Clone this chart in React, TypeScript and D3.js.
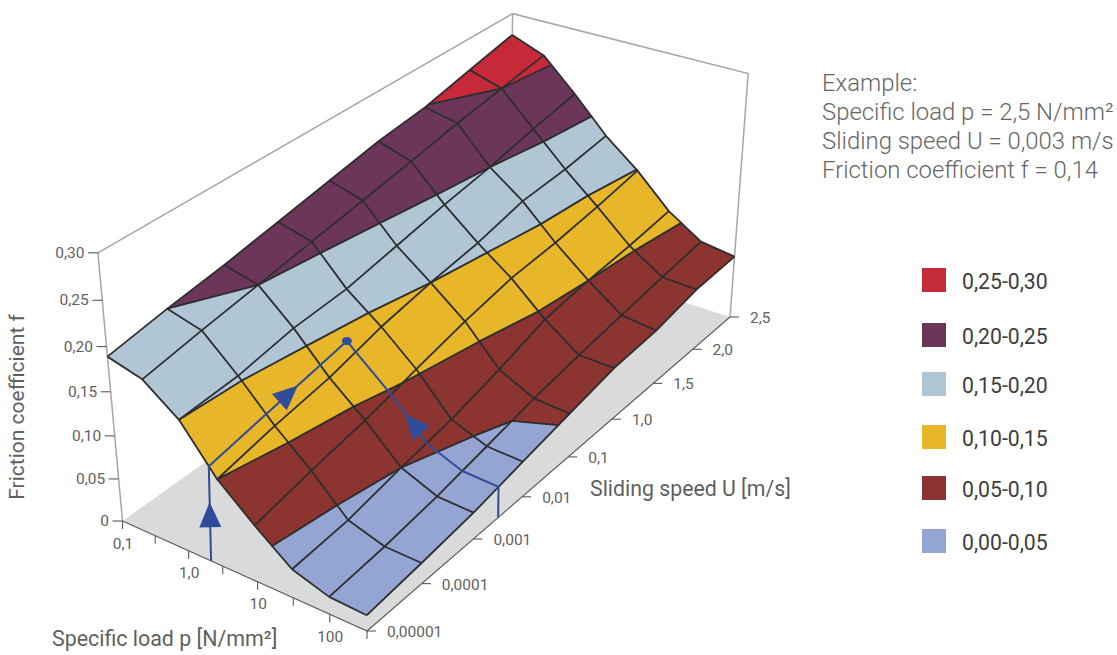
import React from "react";
import * as d3 from "d3";

// ---------- data ----------
const loadTickLabels = ["0,1", "", "1,0", "", "10", "", "100", ""];
const speedTickLabels = ["0,00001", "0,0001", "0,001", "0,01", "0,1", "1,0", "1,5", "2,0", "2,5"];
const frictionTicks = [0, 0.05, 0.1, 0.15, 0.2, 0.25, 0.3];
const frictionTickLabels = ["0", "0,05", "0,10", "0,15", "0,20", "0,25", "0,30"];

// friction f at each load step (columns) for each sliding speed step
const fAt00001 = [0.189, 0.179, 0.15, 0.1, 0.065, 0.033, 0.02, 0.018];
const fAt0001 = [0.2, 0.19, 0.154, 0.113, 0.078, 0.038, 0.025, 0.024];
const fAt001 = [0.209, 0.2, 0.165, 0.123, 0.089, 0.05, 0.033, 0.031];
const fAt01 = [0.22, 0.21, 0.169, 0.139, 0.104, 0.06, 0.044, 0.042];
const fAt1 = [0.231, 0.22, 0.18, 0.15, 0.118, 0.075, 0.0553, 0.0525];
const fAt10 = [0.242, 0.23, 0.191, 0.158, 0.129, 0.093, 0.064, 0.063];
const fAt15 = [0.249, 0.241, 0.2, 0.171, 0.133, 0.1, 0.071, 0.066];
const fAt20 = [0.262, 0.25, 0.212, 0.174, 0.14, 0.104, 0.078, 0.076];
const fAt25 = [0.274, 0.259, 0.222, 0.181, 0.149, 0.11, 0.084, 0.078];
const surface = [fAt00001, fAt0001, fAt001, fAt01, fAt1, fAt10, fAt15, fAt20, fAt25];

const bandEdges = [0, 0.05, 0.1, 0.15, 0.2, 0.25, 0.3];
const bandColors = ["#94a5d3", "#8b3430", "#e8b629", "#b0c6d5", "#6c365b", "#c62a38"];
const legendLabels = ["0,25-0,30", "0,20-0,25", "0,15-0,20", "0,10-0,15", "0,05-0,10", "0,00-0,05"];
const legendColors = ["#c62a38", "#6c365b", "#b0c6d5", "#e8b629", "#8b3430", "#94a5d3"];
const legendY = [280, 335, 384, 437, 488, 541];

const exampleLines = ["Example:", "Specific load p = 2,5 N/mm²", "Sliding speed U = 0,003 m/s", "Friction coefficient f = 0,14"];
// example path: load and speed steps
const exampleLoadFloor = 2.66;
const exampleLoadFront = 2.78;
const exampleLoad = 2.75;
const exampleSpeed = 2.5;
const exampleLoadSteps = [3, 4, 5, 6, 7];

// ---------- view calibration ----------
const A = [122.5, 521], B = [367, 631], C = [730, 317], D = [509, 246];
const V = [449, 4084], s = -0.07;
const dx1 = B[0] - C[0], dx2 = D[0] - C[0], sx = A[0] - B[0] + C[0] - D[0];
const dy1 = B[1] - C[1], dy2 = D[1] - C[1], sy = A[1] - B[1] + C[1] - D[1];
const det = dx1 * dy2 - dx2 * dy1;
const g = (sx * dy2 - dx2 * sy) / det, h = (dx1 * sy - sx * dy1) / det;
const H = { a: B[0] - A[0] + g * B[0], b: D[0] - A[0] + h * D[0], c: A[0], d: B[1] - A[1] + g * B[1], e: D[1] - A[1] + h * D[1], f: A[1] };

const loadScale = d3.scaleLinear().domain([0, 7]).range([0, 1]);
const speedScale = d3.scaleLinear().domain([0, 8]).range([0, 1]);
const frictionScale = d3.scaleLinear().domain([0, 0.3]).range([0, 1]);

type P = [number, number];
function project(i: number, j: number, f: number): P {
  const X = loadScale(i), Y = speedScale(j), Z = frictionScale(f);
  const q = 1 + g * X + h * Y + s * Z;
  return [(H.a * X + H.b * Y + H.c + s * Z * V[0]) / q, (H.d * X + H.e * Y + H.f + s * Z * V[1]) / q];
}
function surf(i: number, j: number) {
  const i0 = Math.min(Math.floor(i), 6), j0 = Math.min(Math.floor(j), 7), u = i - i0, v = j - j0;
  return (surface[j0][i0] * (1 - u) + surface[j0][i0 + 1] * u) * (1 - v) + (surface[j0 + 1][i0] * (1 - u) + surface[j0 + 1][i0 + 1] * u) * v;
}

type V3 = { x: number; y: number; f: number };
function clip(poly: V3[], t: number, keepAbove: boolean): V3[] {
  const out: V3[] = [];
  const inside = (v: V3) => (keepAbove ? v.f >= t : v.f <= t);
  poly.forEach((a, k) => {
    const b = poly[(k + 1) % poly.length];
    if (inside(a)) out.push(a);
    if (inside(a) !== inside(b)) {
      const u = (t - a.f) / (b.f - a.f);
      out.push({ x: a.x + (b.x - a.x) * u, y: a.y + (b.y - a.y) * u, f: t });
    }
  });
  return out;
}

const line = d3.line<P>();
const fills: { d: string; c: string }[] = [];
const contours: string[] = [];
for (let j = 0; j < 8; j++) {
  for (let i = 0; i < 7; i++) {
    const quad: V3[] = ([[i, j], [i + 1, j], [i + 1, j + 1], [i, j + 1]] as P[]).map(([a, b]) => {
      const f = surface[b][a];
      const [x, y] = project(a, b, f);
      return { x, y, f };
    });
    bandColors.forEach((c, b) => {
      const poly = clip(clip(quad, bandEdges[b], true), bandEdges[b + 1], false);
      if (poly.length >= 3) fills.push({ d: line(poly.map((v) => [v.x, v.y] as P))! + "Z", c });
    });
    bandEdges.slice(1, -1).forEach((t) => {
      const pts: P[] = [];
      quad.forEach((a, k) => {
        const b = quad[(k + 1) % 4];
        if (a.f === t) pts.push([a.x, a.y]);
        else if ((a.f - t) * (b.f - t) < 0) {
          const u = (t - a.f) / (b.f - a.f);
          pts.push([a.x + (b.x - a.x) * u, a.y + (b.y - a.y) * u]);
        }
      });
      if (pts.length === 2) contours.push(line(pts)!);
      if (pts.length === 4) { contours.push(line(pts.slice(0, 2))!); contours.push(line(pts.slice(2))!); }
    });
  }
}
const gridPaths: string[] = [];
d3.range(8).forEach((i) => gridPaths.push(line(d3.range(9).map((j) => project(i, j, surface[j][i])))!));
d3.range(9).forEach((j) => gridPaths.push(line(d3.range(8).map((i) => project(i, j, surface[j][i])))!));

const INK = "#2e2e2e", AXIS = "#595959", WALL = "#a6a6a6", TXT = "#5f5f5f", BLUE = "#2f4c9b";

const floorStart = project(exampleLoadFloor, 0, 0);
const frontPt = project(exampleLoadFront, 0, surf(exampleLoadFront, 0));
const dotPt = project(exampleLoad, exampleSpeed, surf(exampleLoad, exampleSpeed));
const surfPts = exampleLoadSteps.map((i) => project(i, exampleSpeed, surf(i, exampleSpeed)));
const dropPt = project(7, exampleSpeed, 0);
const examplePath = [floorStart, frontPt, dotPt, ...surfPts, dropPt];

function arrow(tip: P, from: P) {
  const L = 25, W = 11;
  const dx = tip[0] - from[0], dy = tip[1] - from[1], n = Math.hypot(dx, dy);
  const ux = dx / n, uy = dy / n;
  const bx = tip[0] - ux * L, by = tip[1] - uy * L;
  return line([tip, [bx - uy * W, by + ux * W], [bx + uy * W, by - ux * W]])! + "Z";
}
const lerp = (a: P, b: P, t: number): P => [a[0] + (b[0] - a[0]) * t, a[1] + (b[1] - a[1]) * t];
const arrows = [
  arrow(lerp(floorStart, frontPt, 0.62), floorStart),
  arrow(lerp(frontPt, dotPt, 0.645), frontPt),
  arrow(project(4.4, exampleSpeed, surf(4.4, exampleSpeed)), project(5.2, exampleSpeed, surf(5.2, exampleSpeed))),
];

export default function App() {
  const a = project(0, 0, 0), b = project(7, 0, 0), c = project(7, 8, 0), dd = project(0, 8, 0);
  const at = project(0, 0, 0.3), dt = project(0, 8, 0.3), ct = project(7, 8, 0.3);
  return (
    <svg width={1117} height={655} style={{ position: "absolute", left: 0, top: 0 }} fontFamily="Roboto, sans-serif">
      <path d={line([a, b, c, dd])! + "Z"} fill="#d9dbda" />
      <path d={line([a, at, dt, ct, c])!} fill="none" stroke={WALL} strokeWidth={1.5} />
      <path d={line([dd, dt])!} fill="none" stroke={WALL} strokeWidth={1.5} />
      <path d={line([a, b, c])!} fill="none" stroke={AXIS} strokeWidth={1.1} />
      {frictionTicks.map((f, k) => {
        const p = project(0, 0, f);
        return (
          <g key={k}>
            <line x1={p[0] - 10} x2={p[0]} y1={p[1]} y2={p[1]} stroke={AXIS} strokeWidth={1.1} />
            <text x={p[0] - 13.5} y={p[1]} textAnchor="end" dominantBaseline="central" fontSize={15.5} fill={TXT}>{frictionTickLabels[k]}</text>
          </g>
        );
      })}
      {loadTickLabels.map((t, k) => {
        const p = project(k, 0, 0);
        return (
          <g key={k}>
            <line x1={p[0]} x2={p[0]} y1={p[1]} y2={p[1] + 8} stroke={AXIS} strokeWidth={1.1} />
            <text x={p[0] + 0.5} y={p[1] + 22.5} textAnchor="middle" dominantBaseline="central" fontSize={15.5} fill={TXT}>{t}</text>
          </g>
        );
      })}
      {speedTickLabels.map((t, k) => {
        const p = project(7, k, 0);
        return (
          <g key={k}>
            <line x1={p[0]} x2={p[0] + 9} y1={p[1]} y2={p[1]} stroke={AXIS} strokeWidth={1.1} />
            <text x={p[0] + 20} y={p[1] + 1} dominantBaseline="central" fontSize={15.5} fill={TXT}>{t}</text>
          </g>
        );
      })}

      {fills.map((q, k) => (
        <path key={k} d={q.d} fill={q.c} stroke={q.c} strokeWidth={0.4} />
      ))}
      {contours.map((d, k) => (
        <path key={k} d={d} fill="none" stroke={INK} strokeWidth={1.9} strokeLinecap="round" />
      ))}
      {gridPaths.map((d, k) => (
        <path key={k} d={d} fill="none" stroke={INK} strokeWidth={1.8} strokeLinejoin="round" />
      ))}

      <path d={line(examplePath)!} fill="none" stroke={BLUE} strokeWidth={2} strokeLinejoin="round" />
      {arrows.map((d, k) => <path key={k} d={d} fill={BLUE} />)}
      <ellipse cx={dotPt[0]} cy={dotPt[1]} rx={5} ry={4} fill={BLUE} />

      <text transform="translate(24,407) rotate(-90)" textAnchor="middle" fontSize={21} fill={TXT}>Friction coefficient f</text>
      <text x={52} y={646} fontSize={21.4} fill={TXT}>Specific load p [N/mm²]</text>
      <text x={590} y={496} fontSize={21.3} fill={TXT}>Sliding speed U [m/s]</text>

      {exampleLines.map((t, k) => (
        <text key={k} x={822} y={83 + k * 29} dominantBaseline="central" fontSize={23.9} fontWeight={300} fill="#666">{t}</text>
      ))}
      {legendLabels.map((t, k) => (
        <g key={k}>
          <rect x={922} y={legendY[k] - 12} width={24} height={24} fill={legendColors[k]} />
          <text x={962} y={legendY[k] + 1.5} dominantBaseline="central" fontSize={21.2} fill="#3d3d3d">{t}</text>
        </g>
      ))}
    </svg>
  );
}
